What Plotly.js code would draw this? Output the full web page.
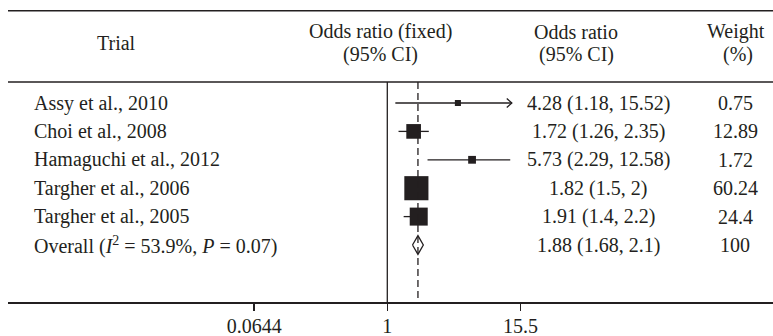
<!DOCTYPE html>
<html>
<head>
<meta charset="utf-8">
<script src="https://cdn.plot.ly/plotly-3.0.1.min.js"></script>
<style>
html,body{margin:0;padding:0;background:#fff;}
#chart{width:773px;height:336px;}
</style>
</head>
<body>
<div id="chart"></div>
<script>
// ---- data ----
const trials = ['Assy et al., 2010', 'Choi et al., 2008', 'Hamaguchi et al., 2012', 'Targher et al., 2006', 'Targher et al., 2005'];
const oddsRatio = [4.28, 1.72, 5.73, 1.82, 1.91];
const ciLow = [1.18, 1.26, 2.29, 1.5, 1.4];
const ciHigh = [15.52, 2.35, 12.58, 2, 2.2];
const weights = [0.75, 12.89, 1.72, 60.24, 24.4];
const overallLabel = ['Overall (<i>I</i><sup>2</sup> = 53.9%, <i>P</i> = 0.07)'];
const overallOR = [1.88];
const overallLow = [1.68];
const overallHigh = [2.1];
const overallWeight = [100];
const tickVals = [0.0644, 1, 15.5];
const tickText = ['0.0644', '1', '15.5'];
const headerTrial = ['Trial'];
const headerFixed = ['Odds ratio (fixed)', '(95% CI)'];
const headerOR = ['Odds ratio', '(95% CI)'];
const headerWeight = ['Weight', '(%)'];
const clipHigh = 13; // upper clip of CI drawing (arrow)

// ---- layout helpers ----
const FONT = 'Liberation Serif, Times New Roman, serif';
const FS = 20;
const INK = '#231f20';
const W = 773, H = 336, ML = 8, MR = 0, MT = 82, MB = 34;
const PW = W - ML - MR, PH = H - MT - MB;
const px2x = px => (px - ML) / PW;
const py2y = py => 1 + (MT - py) / PH;

const overallRow = trials.length;
const rowPx = 28.4;

// CI lines (+ open chevron arrow for clipped intervals)
const ciX = [], ciY = [];
const arrowLen = 1.11, arrowHalf = 0.16;
trials.forEach((t, i) => {
  const hi = Math.min(ciHigh[i], clipHigh);
  ciX.push(ciLow[i], hi, null);
  ciY.push(i, i, null);
  if (ciHigh[i] > clipHigh) {
    ciX.push(hi / arrowLen, hi, hi / arrowLen, null);
    ciY.push(i - arrowHalf, i, i + arrowHalf, null);
  }
});

const traces = [];
traces.push({
  type: 'scatter', mode: 'lines', x: ciX, y: ciY,
  line: {color: INK, width: 1.3}, hoverinfo: 'skip', showlegend: false
});
// squares sized by weight
traces.push({
  type: 'scatter', mode: 'markers', x: oddsRatio, y: trials.map((t, i) => i),
  marker: {symbol: 'square', color: INK, opacity: 1, size: weights.map(w => 0.6 + 6 * Math.cbrt(w)), line: {width: 0}},
  hoverinfo: 'skip', showlegend: false
});
// overall diamond
const dh = 0.33;
traces.push({
  type: 'scatter', mode: 'lines',
  x: [overallLow[0], overallOR[0], overallHigh[0], overallOR[0], overallLow[0]],
  y: [overallRow, overallRow - dh, overallRow, overallRow + dh, overallRow],
  fill: 'toself', fillcolor: '#fff', line: {color: INK, width: 1.3},
  hoverinfo: 'skip', showlegend: false
});
const yTop = -(103 - MT) / rowPx;
const yBot = overallRow + (MT + PH - 245) / rowPx;
// reference line at OR = 1
traces.push({
  type: 'scatter', mode: 'lines', x: [1, 1], y: [yTop, yBot],
  line: {color: INK, width: 1.3}, hoverinfo: 'skip', showlegend: false, cliponaxis: false
});
// overall estimate dashed line
traces.push({
  type: 'scatter', mode: 'lines', x: [overallOR[0], overallOR[0]], y: [yTop, yBot],
  line: {color: INK, width: 1.3, dash: '7px,4px'}, hoverinfo: 'skip', showlegend: false, cliponaxis: false
});

const ann = [];
const txt = (text, x, y, xanchor, yref) => ({
  text: text, x: x, y: y, xref: 'paper', yref: yref || 'y', xanchor: xanchor || 'center', yanchor: 'middle',
  showarrow: false, font: {family: FONT, size: FS, color: INK}
});
trials.forEach((t, i) => {
  ann.push(txt(t, px2x(32), i, 'left'));
  ann.push(txt(oddsRatio[i] + ' (' + ciLow[i] + ', ' + ciHigh[i] + ')', px2x(598), i));
  ann.push(txt(String(weights[i]), px2x(735), i));
});
ann.push(txt(overallLabel[0], px2x(32), overallRow, 'left'));
ann.push(txt(overallOR[0] + ' (' + overallLow[0] + ', ' + overallHigh[0] + ')', px2x(598), overallRow));
ann.push(txt(String(overallWeight[0]), px2x(735), overallRow));
// headers
ann.push(txt(headerTrial[0], px2x(116), py2y(43), 'center', 'paper'));
ann.push(txt(headerFixed[0], px2x(380), py2y(32), 'center', 'paper'));
ann.push(txt(headerFixed[1], px2x(380), py2y(55), 'center', 'paper'));
ann.push(txt(headerOR[0], px2x(576), py2y(32), 'center', 'paper'));
ann.push(txt(headerOR[1], px2x(576), py2y(55), 'center', 'paper'));
ann.push(txt(headerWeight[0], px2x(736), py2y(32), 'center', 'paper'));
ann.push(txt(headerWeight[1], px2x(738), py2y(55), 'center', 'paper'));

const onePx = 387.3;
const pxPerDec = 111.8;
const layout = {
  width: W, height: H,
  margin: {l: ML, r: MR, t: MT, b: MB, pad: 0},
  paper_bgcolor: '#fff', plot_bgcolor: '#fff',
  showlegend: false,
  xaxis: {
    type: 'log',
    range: [(ML - onePx) / pxPerDec, (W - MR - onePx) / pxPerDec],
    tickvals: tickVals, ticktext: tickText,
    ticks: 'outside', ticklen: 7, tickwidth: 1.3, tickcolor: INK,
    ticklabelstandoff: -2,
    showline: true, linecolor: INK, linewidth: 1.5,
    showgrid: false, zeroline: false,
    tickfont: {family: FONT, size: FS, color: INK},
    fixedrange: true
  },
  yaxis: {
    range: [yBot, yTop], visible: false, showgrid: false, zeroline: false, fixedrange: true
  },
  shapes: [
    {type: 'line', xref: 'paper', yref: 'paper', x0: 0, x1: 1, y0: py2y(10.7), y1: py2y(10.7), line: {color: INK, width: 1.5}},
    {type: 'line', xref: 'paper', yref: 'paper', x0: 0, x1: 1, y0: 1, y1: 1, line: {color: INK, width: 1.5}}
  ],
  annotations: ann
};

Plotly.newPlot('chart', traces, layout, {displayModeBar: false, staticPlot: true});
</script>
</body>
</html>
